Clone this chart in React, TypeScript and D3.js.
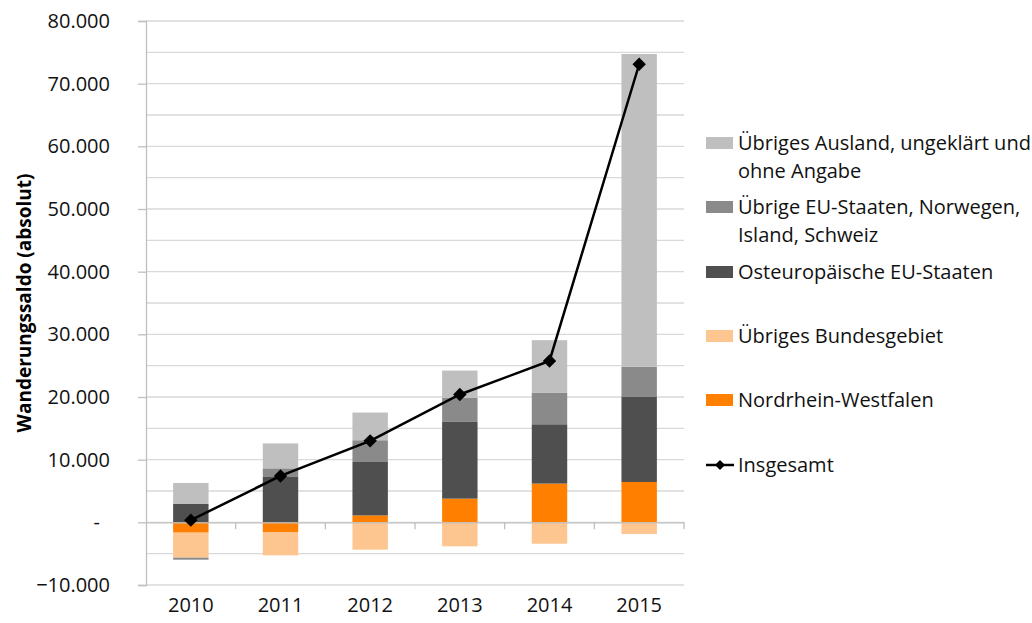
import React, { useEffect, useRef } from 'react';
import * as d3 from 'd3';

const years = ['2010', '2011', '2012', '2013', '2014', '2015'];

// Wanderungssaldo je Herkunftsgebiet (absolut)
const nordrheinWestfalen = [-1650, -1540, 1100, 3780, 6180, 6440];
const uebrigesBundesgebiet = [-3990, -3730, -4360, -3830, -3410, -1870];
const osteuropaEU = [2980, 7240, 8530, 12240, 9470, 13570];
const uebrigeEU = [-320, 1380, 3470, 3840, 5060, 4800];
const uebrigesAusland = [3300, 3980, 4420, 4360, 8360, 49930];
const insgesamt = [350, 7400, 13000, 20400, 25750, 73100];

const yTicks = [-10000, 0, 10000, 20000, 30000, 40000, 50000, 60000, 70000, 80000];
const gridValues = d3.range(-10000, 80001, 5000);

const seriesKeys = ['nrw', 'bund', 'ost', 'eu', 'ausland'];
const seriesColors: Record<string, string> = {
  nrw: '#ff7f00',
  bund: '#fdc590',
  ost: '#4f4f4f',
  eu: '#8a8a8a',
  ausland: '#bfbfbf',
};

const legendItems = [
  { key: 'ausland', lines: ['Übriges Ausland, ungeklärt und', 'ohne Angabe'], y: 143 },
  { key: 'eu', lines: ['Übrige EU-Staaten, Norwegen,', 'Island, Schweiz'], y: 207 },
  { key: 'ost', lines: ['Osteuropäische EU-Staaten'], y: 272 },
  { key: 'bund', lines: ['Übriges Bundesgebiet'], y: 336 },
  { key: 'nrw', lines: ['Nordrhein-Westfalen'], y: 400 },
];

const formatTick = (v: number) => (v === 0 ? '-' : d3.format(',')(v).replace(/,/g, '.'));

function MigrationChart() {
  const svgRef = useRef<SVGSVGElement>(null);

  useEffect(() => {
    const svg = d3.select(svgRef.current);
    svg.selectAll('*').remove();

    const font = "'Open Sans', sans-serif";
    const textColor = '#111';
    const left = 146;
    const right = 684;
    const top = 21;
    const bottom = 585;

    const rows = years.map((year, i) => ({
      year,
      nrw: nordrheinWestfalen[i],
      bund: uebrigesBundesgebiet[i],
      ost: osteuropaEU[i],
      eu: uebrigeEU[i],
      ausland: uebrigesAusland[i],
    }));

    const x = d3.scaleBand().domain(years).range([left, right]).paddingInner(0.605).paddingOuter(0.3025);
    const xCenter = d3.scalePoint().domain(years).range([left, right]).padding(0.5);
    const y = d3.scaleLinear().domain([-10000, 80000]).range([bottom, top]);

    // gridlines
    svg.append('g')
      .selectAll('line')
      .data(gridValues)
      .enter()
      .append('line')
      .attr('x1', left)
      .attr('x2', right)
      .attr('y1', (d) => y(d))
      .attr('y2', (d) => y(d))
      .attr('stroke', '#d9d9d9')
      .attr('stroke-width', 1.3);

    // y axis
    const yAxis = svg.append('g')
      .attr('transform', `translate(${left},0)`)
      .call(d3.axisLeft(y).tickValues(yTicks).tickSize(8).tickFormat((d) => formatTick(+d)));
    yAxis.select('.domain').attr('stroke', '#bfbfbf').attr('stroke-width', 1.3);
    yAxis.selectAll('.tick line').attr('stroke', '#bfbfbf').attr('stroke-width', 1.3);
    yAxis.selectAll('.tick text')
      .attr('x', -36)
      .attr('fill', textColor)
      .style('font-family', font)
      .style('font-size', '20px');
    yAxis.selectAll('.tick text').filter((d) => d === 0).attr('x', -46);

    // stacked bars
    const stack = d3.stack<any>().keys(seriesKeys).offset(d3.stackOffsetDiverging);
    const layers = stack(rows);

    svg.append('g')
      .selectAll('g')
      .data(layers)
      .enter()
      .append('g')
      .attr('fill', (d) => seriesColors[d.key])
      .selectAll('rect')
      .data((d) => d)
      .enter()
      .append('rect')
      .attr('x', (d) => x(d.data.year) as number)
      .attr('width', x.bandwidth())
      .attr('y', (d) => y(Math.max(d[0], d[1])))
      .attr('height', (d) => Math.abs(y(d[0]) - y(d[1])));

    // x axis at zero
    const xAxis = svg.append('g')
      .attr('transform', `translate(0,${y(0)})`)
      .call(d3.axisBottom(xCenter).tickValues([]).tickSizeOuter(0));
    xAxis.select('.domain').attr('stroke', '#bfbfbf').attr('stroke-width', 1.3);

    const step = (right - left) / years.length;
    xAxis.selectAll('line.sep')
      .data(d3.range(1, years.length + 1))
      .enter()
      .append('line')
      .attr('class', 'sep')
      .attr('x1', (d) => left + d * step)
      .attr('x2', (d) => left + d * step)
      .attr('y1', 0)
      .attr('y2', 7)
      .attr('stroke', '#bfbfbf')
      .attr('stroke-width', 1.3);

    // year labels
    svg.append('g')
      .selectAll('text')
      .data(years)
      .enter()
      .append('text')
      .attr('x', (d) => xCenter(d) as number)
      .attr('y', 612)
      .attr('text-anchor', 'middle')
      .attr('fill', textColor)
      .style('font-family', font)
      .style('font-size', '20px')
      .text((d) => d);

    // total line
    const line = d3.line<number>()
      .x((_, i) => xCenter(years[i]) as number)
      .y((d) => y(d));

    svg.append('path')
      .datum(insgesamt)
      .attr('d', line)
      .attr('fill', 'none')
      .attr('stroke', '#000')
      .attr('stroke-width', 2.5);

    const diamond = d3.symbol().type(d3.symbolSquare).size(90);
    svg.append('g')
      .selectAll('path')
      .data(insgesamt)
      .enter()
      .append('path')
      .attr('d', diamond)
      .attr('transform', (d, i) => `translate(${xCenter(years[i])},${y(d)}) rotate(45)`)
      .attr('fill', '#000');

    // y axis title
    svg.append('text')
      .attr('transform', `translate(24,${(top + bottom) / 2}) rotate(-90)`)
      .attr('text-anchor', 'middle')
      .attr('dominant-baseline', 'central')
      .attr('fill', '#000')
      .style('font-family', font)
      .style('font-size', '19px')
      .style('font-weight', 'bold')
      .text('Wanderungssaldo (absolut)');

    // legend
    const legend = svg.append('g');
    legendItems.forEach((item) => {
      legend.append('rect')
        .attr('x', 706)
        .attr('y', item.y - 6)
        .attr('width', 27)
        .attr('height', 12)
        .attr('fill', seriesColors[item.key]);
      item.lines.forEach((t, j) => {
        legend.append('text')
          .attr('x', 738)
          .attr('y', item.y + 7 + j * 28)
          .attr('fill', textColor)
          .style('font-family', font)
          .style('font-size', '20px')
          .text(t);
      });
    });

    legend.append('line')
      .attr('x1', 706)
      .attr('x2', 734)
      .attr('y1', 465)
      .attr('y2', 465)
      .attr('stroke', '#000')
      .attr('stroke-width', 2.5);
    legend.append('path')
      .attr('d', d3.symbol().type(d3.symbolSquare).size(50))
      .attr('transform', 'translate(720,465) rotate(45)')
      .attr('fill', '#000');
    legend.append('text')
      .attr('x', 738)
      .attr('y', 472)
      .attr('fill', textColor)
      .style('font-family', font)
      .style('font-size', '20px')
      .text('Insgesamt');
  }, []);

  return (
    <svg
      ref={svgRef}
      width={1032}
      height={623}
      style={{ position: 'absolute', left: 0, top: 0, background: '#fff' }}
    />
  );
}

export default function App() {
  return <MigrationChart />;
}
